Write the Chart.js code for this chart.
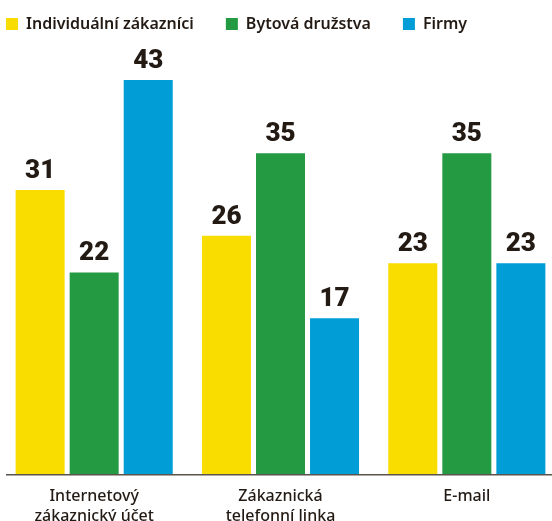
<!DOCTYPE html>
<html>
<head>
<meta charset="utf-8">
<script src="https://cdn.jsdelivr.net/npm/chart.js@4/dist/chart.umd.min.js"></script>
<style>
  html, body { margin: 0; padding: 0; background: #fff; overflow: hidden; }
  #wrap { position: absolute; left: 0; top: 0; width: 560px; height: 521px; }
</style>
</head>
<body>
<div id="wrap"><canvas id="chart"></canvas></div>
<script>
const categories = [['Internetový', 'zákaznický účet'], ['Zákaznická', 'telefonní linka'], 'E-mail'];
const seriesNames = ['Individuální zákazníci', 'Bytová družstva', 'Firmy'];
const individual = [31, 26, 23];
const cooperatives = [22, 35, 35];
const companies = [43, 17, 23];

const colors = ['#f9dd00', '#249b43', '#009dd6'];
const textColor = '#231a14';

// value labels above bars
const valueLabels = {
    id: 'valueLabels',
    afterDatasetsDraw(chart) {
        const ctx = chart.ctx;
        ctx.save();
        ctx.font = '900 26px Roboto';
        ctx.fillStyle = textColor;
        ctx.textAlign = 'center';
        ctx.textBaseline = 'alphabetic';
        chart.data.datasets.forEach((ds, i) => {
            chart.getDatasetMeta(i).data.forEach((bar, j) => {
                ctx.fillText(ds.data[j], bar.x, bar.y - 12);
            });
        });
        ctx.restore();
    }
};

// baseline under the bars
const baseline = {
    id: 'baseline',
    afterDatasetsDraw(chart) {
        const ctx = chart.ctx;
        const y = chart.scales.y.getPixelForValue(0);
        ctx.save();
        ctx.strokeStyle = '#5b524b';
        ctx.lineWidth = 1.5;
        ctx.beginPath();
        ctx.moveTo(6, y + 0.75);
        ctx.lineTo(552, y + 0.75);
        ctx.stroke();
        ctx.restore();
    }
};

// nudge the legend to the top-left corner without moving the plot
const legendShift = {
    id: 'legendShift',
    afterLayout(chart) {
        chart.legend.left -= 27;
        chart.legend.top -= 16;
    }
};

const ctx = document.getElementById('chart').getContext('2d');
new Chart(ctx, {
    type: 'bar',
    data: {
        labels: categories,
        datasets: [
            { label: seriesNames[0], data: individual, backgroundColor: colors[0] },
            { label: seriesNames[1], data: cooperatives, backgroundColor: colors[1] },
            { label: seriesNames[2], data: companies, backgroundColor: colors[2] }
        ]
    },
    options: {
        responsive: true,
        maintainAspectRatio: false,
        animation: false,
        layout: { padding: { left: 1, right: 0, top: 0, bottom: -9 } },
        datasets: {
            bar: { categoryPercentage: 0.87, barPercentage: 0.907 }
        },
        scales: {
            x: {
                grid: { display: false },
                border: { display: false },
                ticks: {
                    color: textColor,
                    font: { family: 'Noto Sans', size: 16, weight: 500, lineHeight: 1.25 },
                    padding: 4,
                    maxRotation: 0
                }
            },
            y: {
                display: false,
                min: 0,
                max: 45.4
            }
        },
        plugins: {
            legend: {
                position: 'top',
                align: 'start',
                labels: {
                    color: textColor,
                    font: { family: 'Noto Sans', size: 16, weight: 600 },
                    boxWidth: 12,
                    boxHeight: 12,
                    padding: 32
                }
            },
            tooltip: { enabled: false }
        }
    },
    plugins: [valueLabels, baseline, legendShift]
});
</script>
</body>
</html>
